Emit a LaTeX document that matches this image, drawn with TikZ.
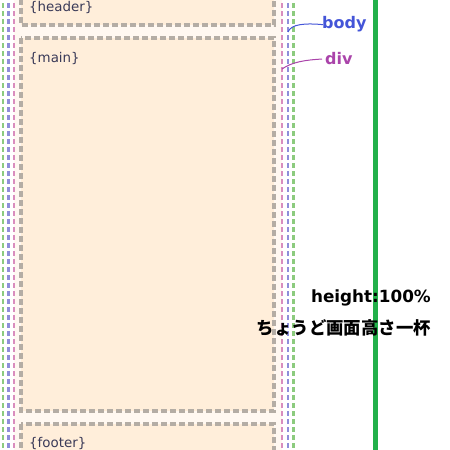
\documentclass[tikz,border=0pt]{standalone}
\usepackage{fontspec}
\setmainfont{DejaVu Sans}
\newfontfamily\jp{Noto Sans CJK JP}
\definecolor{peach}{HTML}{FFEEDA}
\definecolor{lightbg}{HTML}{FFF8F1}
\definecolor{boxgray}{HTML}{B4ADA5}
\definecolor{lgreen}{HTML}{8CCB7E}
\definecolor{lblue}{HTML}{8E8EDA}
\definecolor{lpink}{HTML}{D98DBE}
\definecolor{sgreen}{HTML}{22B04A}
\definecolor{bodyblue}{HTML}{4455D8}
\definecolor{divmag}{HTML}{AA44AA}
\definecolor{tagtext}{HTML}{3A3A58}
\tikzset{
  areabox/.style={draw=boxgray, line width=3.2pt, dash pattern=on 6pt off 3pt, fill=peach},
  edgeline/.style={line width=2.8pt, dash pattern=on 5pt off 3pt},
  tag/.style={font=\fontsize{13.4}{15}\selectfont, text=tagtext, anchor=base west, inner sep=0pt},
  lbl/.style={font=\fontsize{16}{18}\selectfont\bfseries, anchor=base west, inner sep=0pt},
  note/.style={font=\fontsize{16.8}{20}\selectfont\bfseries, anchor=base east, inner sep=0pt},
  leader/.style={line width=1pt}
}
\begin{document}
\begin{tikzpicture}[x=1pt,y=-1pt]
\useasboundingbox (0,0) rectangle (450,450);
\fill[white] (0,0) rectangle (450,450);
\fill[lightbg] (14,0) rectangle (282,450);
% areas
\draw[areabox] (21,-10) rectangle (274,25);
\draw[areabox] (21,38) rectangle (274,411);
\draw[areabox] (21,424) rectangle (274,460);
\node[tag] (hdr) at (29,11) {\{header\}};
\node[tag] (mn) at (29,62) {\{main\}};
\node[tag] (ftr) at (29,447) {\{footer\}};
% body / div edges
\draw[edgeline, lgreen] (3,-5) -- (3,455);
\draw[edgeline, lblue] (8.5,-5) -- (8.5,455);
\draw[edgeline, lpink] (14,-5) -- (14,455);
\draw[edgeline, lpink] (282,-5) -- (282,455);
\draw[edgeline, lblue] (288,-5) -- (288,455);
\draw[edgeline, lgreen] (293.5,-5) -- (293.5,455);
% viewport line
\draw[sgreen, line width=4.5pt] (375.5,-5) -- (375.5,455);
% labels
\node[lbl, text=bodyblue] (body) at (322,28) {body};
\node[lbl, text=divmag] (div) at (325,64) {div};
\coordinate (bodyedge) at (288,32);
\coordinate (divedge) at (282,69);
\draw[leader, bodyblue] (bodyedge) .. controls (291,24) and (305,23) .. ([xshift=1pt,yshift=-1pt]body.west);
\draw[leader, divmag] (divedge) .. controls (292,62) and (305,60) .. ([xshift=-3pt,yshift=-1pt]div.west);
\node[note] (h100) at (431,302) {height:100\%};
\node[note] (full) at (431,334) {\jp\fontsize{17.4}{20}\selectfont ちょうど画面高さ一杯};
\end{tikzpicture}
\end{document}
